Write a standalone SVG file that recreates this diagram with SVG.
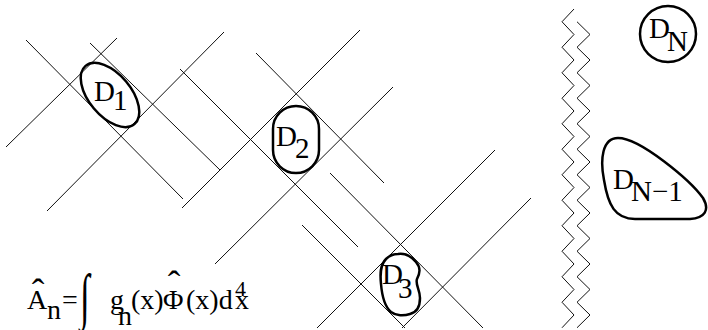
<svg xmlns="http://www.w3.org/2000/svg" width="708" height="330" viewBox="0 0 708 330">
<style>
.ln{stroke:#111;stroke-width:1;fill:none}
.sh{stroke:#000;stroke-width:2.5;fill:none}
.zz{stroke:#111;stroke-width:1;fill:none}
.t{font-family:"Liberation Serif","Times New Roman",serif;font-size:29px;fill:#000}
.e{font-family:"Liberation Serif","Times New Roman",serif;font-size:28px;fill:#000}
.hat{font-family:"Liberation Serif","Times New Roman",serif;font-size:38px;fill:#000;text-anchor:middle}
</style>
<rect width="708" height="330" fill="#fff"/>
<g id="connectors">
<line class="ln" x1="6" y1="147" x2="117" y2="38"/>
<line class="ln" x1="47" y1="211" x2="224" y2="32"/>
<line class="ln" x1="182" y1="208" x2="360" y2="30"/>
<line class="ln" x1="215" y1="264" x2="393" y2="87"/>
<line class="ln" x1="317" y1="328" x2="495" y2="150"/>
<line class="ln" x1="402" y1="328" x2="531" y2="198"/>
<line class="ln" x1="26" y1="40" x2="183" y2="199"/>
<line class="ln" x1="90" y1="43" x2="220" y2="170"/>
<line class="ln" x1="180" y1="69" x2="358" y2="247"/>
<line class="ln" x1="256" y1="53" x2="384" y2="183"/>
<line class="ln" x1="330" y1="173" x2="483" y2="328"/>
<line class="ln" x1="302" y1="225" x2="405" y2="328"/>
</g>
<g id="wall">
<polyline class="zz" points="574,9 562,21.75 574,34.5 562,47.25 574,60 562,72.75 574,85.5 562,98.25 574,111 562,123.75 574,136.5 562,149.25 574,162 562,174.75 574,187.5 562,200.25 574,213 562,225.75 574,238.5 562,251.25 574,264 562,276.75 574,289.5 562,302.25 574,315 562,327.75"/>
<polyline class="zz" points="577,21.75 590,34.5 577,47.25 590,60 577,72.75 590,85.5 577,98.25 590,111 577,123.75 590,136.5 577,149.25 590,162 577,174.75 590,187.5 577,200.25 590,213 577,225.75 590,238.5 577,251.25 590,264 577,276.75 590,289.5 577,302.25 590,315 577,327.75"/>
</g>
<g id="D1">
<ellipse class="sh" cx="110" cy="95" rx="38" ry="21" transform="rotate(50 110 95)"/>
<text class="t" x="94" y="101">D</text><text class="t" x="113" y="110">1</text>
</g>
<g id="D2">
<rect class="sh" x="273" y="106" width="46" height="67" rx="23" ry="23"/>
<text class="t" x="276" y="146">D</text><text class="t" x="295" y="158">2</text>
</g>
<g id="D3">
<path class="sh" d="M398,254 C405,253 411,256 416,262 C421,268 420,273 417,279 C415,284 420,290 420,298 C420,306 418,312 410,314 C404,316 396,316 391,312 C384,306 382,296 381,284 C380,274 380,265 386,259 C390,255 394,254 398,254 Z"/>
<text class="t" x="382" y="284">D</text><text class="t" x="398" y="298">3</text>
</g>
<g id="DN">
<circle class="sh" cx="668" cy="34" r="28"/>
<text class="t" x="649" y="38">D</text><text class="t" x="667" y="51">N</text>
</g>
<g id="DN-1">
<path class="sh" d="M618,138 C640,138 690,180 703,198 C710,210 705,218 690,219 L635,219 C615,219 608,205 604,180 C600,160 602,138 618,138 Z"/>
<text class="t" x="613" y="189">D</text><text class="t" x="631" y="201">N−1</text>
</g>
<g id="equation">
<text class="e" x="27" y="309">A</text>
<text class="hat" x="38" y="305">ˆ</text>
<text class="e" x="47" y="319">n</text>
<text class="e" x="62" y="309">=</text>
<text class="e" transform="translate(80,317) scale(0.8,1.4)" style="font-size:44px">∫</text>
<text class="e" x="110" y="309">g</text>
<text class="e" x="118" y="325">n</text>
<text class="e" x="131" y="309">(x)</text>
<text class="e" x="163" y="309">Φ</text>
<text class="hat" x="174" y="297">ˆ</text>
<text class="e" x="186" y="309">(x)d</text>
<text class="e" x="235" y="296" style="font-size:22px">4</text>
<text class="e" x="235" y="309">x</text>
</g>
</svg>
